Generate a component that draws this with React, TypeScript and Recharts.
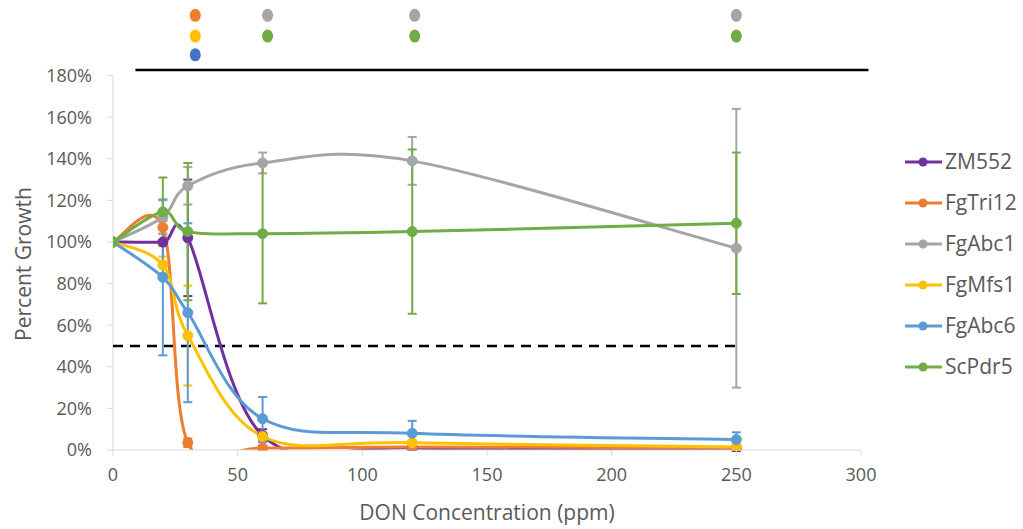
import React from 'react';
import {
  ComposedChart,
  Line,
  Scatter,
  XAxis,
  YAxis,
  ErrorBar,
  ReferenceLine,
} from 'recharts';

// DON concentrations (ppm)
const doses = [0, 20, 30, 60, 120, 250];

// percent growth (1 = 100%) and standard deviation per strain
const zm552 = [1.0, 1.0, 1.02, 0.07, 0.01, 0.005];
const zm552Sd = [null, 0.115, 0.28, 0.03, 0.01, 0.01];
const fgTri12 = [1.0, 1.07, 0.035, 0.01, 0.015, 0.01];
const fgTri12Sd = [null, 0.03, 0.02, 0.01, 0.01, 0.01];
const fgAbc1 = [1.0, 1.12, 1.27, 1.38, 1.39, 0.97];
const fgAbc1Sd = [null, 0.08, 0.09, 0.05, 0.115, 0.67];
const fgMfs1 = [1.0, 0.89, 0.55, 0.065, 0.035, 0.015];
const fgMfs1Sd = [null, 0.04, 0.24, 0.02, 0.01, 0.01];
const fgAbc6 = [1.0, 0.83, 0.66, 0.15, 0.08, 0.05];
const fgAbc6Sd = [null, 0.375, 0.43, 0.105, 0.06, 0.035];
const scPdr5 = [1.0, 1.145, 1.05, 1.04, 1.05, 1.09];
const scPdr5Sd = [null, 0.165, 0.33, 0.335, 0.395, 0.34];

// significance markers above the plot
const fgTri12Sig = [33];
const fgAbc1Sig = [62, 121, 250];
const fgMfs1Sig = [33];
const scPdr5Sig = [62, 121, 250];
const fgAbc6Sig = [33];
const sigRow1 = 2.09;
const sigRow2 = 1.99;
const sigRow3 = 1.9;

const yTicks = [0, 0.2, 0.4, 0.6, 0.8, 1.0, 1.2, 1.4, 1.6, 1.8];
const xTicks = [0, 50, 100, 150, 200, 250, 300];
const halfLine = 0.5;
const halfLineEnd = 250;
const bracketY = 1.827;
const bracketX = [9, 303];

const series = [
  { name: 'ZM552', values: zm552, sd: zm552Sd, color: '#7030a0' },
  { name: 'FgTri12', values: fgTri12, sd: fgTri12Sd, color: '#ed7d31' },
  { name: 'FgAbc1', values: fgAbc1, sd: fgAbc1Sd, color: '#a5a5a5' },
  { name: 'FgMfs1', values: fgMfs1, sd: fgMfs1Sd, color: '#ffc000' },
  { name: 'FgAbc6', values: fgAbc6, sd: fgAbc6Sd, color: '#5b9bd5' },
  { name: 'ScPdr5', values: scPdr5, sd: scPdr5Sd, color: '#70ad47' },
];

const sigMarks = [
  { xs: fgTri12Sig, y: sigRow1, color: '#ed7d31' },
  { xs: fgAbc1Sig, y: sigRow1, color: '#a5a5a5' },
  { xs: fgMfs1Sig, y: sigRow2, color: '#ffc000' },
  { xs: scPdr5Sig, y: sigRow2, color: '#70ad47' },
  { xs: fgAbc6Sig, y: sigRow3, color: '#4472c4' },
];

const table = doses.map((x, i) => {
  const row: Record<string, number | null> = { x };
  series.forEach((s) => {
    row[s.name] = s.values[i];
    row[s.name + '_sd'] = s.sd[i];
  });
  return row;
});

// Excel style smoothed line (Catmull-Rom as cubic bezier)
const excelSmooth = (context: any) => {
  let pts: number[][] = [];
  return {
    areaStart() {},
    areaEnd() {},
    lineStart() {
      pts = [];
    },
    point(x: number, y: number) {
      pts.push([+x, +y]);
    },
    lineEnd() {
      const n = pts.length;
      if (!n) return;
      context.moveTo(pts[0][0], pts[0][1]);
      for (let i = 0; i < n - 1; i++) {
        const p0 = pts[Math.max(i - 1, 0)];
        const p1 = pts[i];
        const p2 = pts[i + 1];
        const p3 = pts[Math.min(i + 2, n - 1)];
        context.bezierCurveTo(
          p1[0] + (p2[0] - p0[0]) / 6,
          p1[1] + (p2[1] - p0[1]) / 6,
          p2[0] - (p3[0] - p1[0]) / 6,
          p2[1] - (p3[1] - p1[1]) / 6,
          p2[0],
          p2[1]
        );
      }
    },
  };
};

const textColor = '#595959';
const axisColor = '#d9d9d9';

const LegendBox = () => (
  <div style={{ position: 'absolute', left: 905, top: 141 }}>
    {series.map((s) => (
      <div key={s.name} style={{ display: 'flex', alignItems: 'center', height: 41 }}>
        <svg width={38} height={12} style={{ marginRight: 2 }}>
          <line x1={0} y1={6} x2={37} y2={6} stroke={s.color} strokeWidth={3} />
          <circle cx={18} cy={6} r={4.5} fill={s.color} />
        </svg>
        <span style={{ fontSize: 21, color: textColor, lineHeight: '41px' }}>{s.name}</span>
      </div>
    ))}
  </div>
);

export default function App() {
  return (
    <div
      style={{
        position: 'absolute',
        left: 0,
        top: 0,
        width: 1023,
        height: 529,
        background: '#fff',
        fontFamily: '"Open Sans", sans-serif',
      }}
    >
      <ComposedChart
        width={1023}
        height={529}
        data={table}
        margin={{ top: 0.72, right: 162, bottom: 0, left: 0 }}
      >
        <XAxis
          type="number"
          dataKey="x"
          domain={[0, 300]}
          ticks={xTicks}
          allowDataOverflow
          height={79}
          stroke={axisColor}
          tickSize={6}
          tickMargin={12}
          tick={{ fontSize: 18, fill: textColor }}
          label={{
            value: 'DON Concentration (ppm)',
            position: 'insideBottom',
            offset: 9,
            style: { fontSize: 21, fill: textColor },
          }}
        />
        <YAxis
          type="number"
          domain={[0, 2.16]}
          ticks={yTicks}
          allowDataOverflow
          width={113}
          axisLine={false}
          tickLine={{ stroke: axisColor }}
          tickSize={6}
          tickMargin={15}
          tick={{ fontSize: 18, fill: textColor }}
          tickFormatter={(v: number) => `${Math.round(v * 100)}%`}
          label={() => (
            <text
              x={23}
              y={264}
              transform="rotate(-90 23 264)"
              textAnchor="middle"
              dominantBaseline="central"
              fontSize={21}
              fill={textColor}
            >
              Percent Growth
            </text>
          )}
        />
        <ReferenceLine
          segment={[{ x: 0, y: 0 }, { x: 0, y: 1.8 }]}
          stroke={axisColor}
          strokeWidth={1}
        />
        <ReferenceLine
          segment={[{ x: 0, y: halfLine }, { x: halfLineEnd, y: halfLine }]}
          stroke="#000"
          strokeWidth={2.5}
          strokeDasharray="10 7"
        />
        <ReferenceLine
          segment={[{ x: bracketX[0], y: bracketY }, { x: bracketX[1], y: bracketY }]}
          stroke="#000"
          strokeWidth={2.5}
          ifOverflow="visible"
        />
        {series.map((s) => (
          <Line
            key={s.name}
            dataKey={s.name}
            type={excelSmooth as any}
            stroke={s.color}
            strokeWidth={3}
            dot={{ r: 5, fill: s.color, stroke: s.color, strokeWidth: 1 }}
            activeDot={false}
            isAnimationActive={false}
          >
            <ErrorBar
              dataKey={s.name + '_sd'}
              direction="y"
              width={4.5}
              stroke={s.color}
              strokeWidth={2}
              isAnimationActive={false}
            />
          </Line>
        ))}
        {sigMarks.map((m, i) => (
          <Scatter
            key={i}
            data={m.xs.map((x) => ({ x, y: m.y }))}
            dataKey="y"
            fill={m.color}
            isAnimationActive={false}
            shape={(p: any) => <ellipse cx={p.cx} cy={p.cy} rx={5.5} ry={6.5} fill={m.color} />}
          />
        ))}
      </ComposedChart>
      <LegendBox />
    </div>
  );
}
